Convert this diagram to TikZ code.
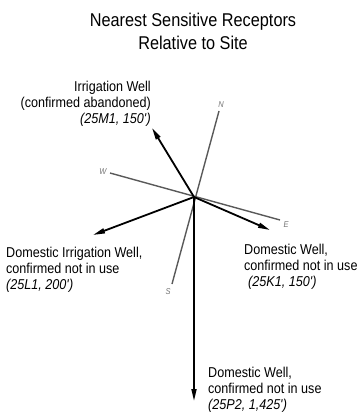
\documentclass[tikz,border=0pt]{standalone}
\usepackage{fontspec}
\setmainfont[FakeStretch=0.88]{Liberation Sans}
\usetikzlibrary{arrows.meta}
\begin{document}
\begin{tikzpicture}[x=1pt,y=-1pt,
  compass/.style={draw=black!65, line width=1.4pt},
  dirlabel/.style={font=\fontsize{8.5}{9}\selectfont\itshape, text=black!55, inner sep=0},
  receptor/.style={draw=black, line width=1.8pt, -{Triangle[length=12pt,width=5pt]}},
  lbl/.style={font=\fontsize{14.3}{16.3}\selectfont, inner sep=0},
]
\useasboundingbox (0,0) rectangle (360,412);
% title
\node[font=\fontsize{18.5}{22.5}\selectfont, align=center, anchor=north, inner sep=0] (title) at (193,13)
  {Nearest Sensitive Receptors\\Relative to Site};
% compass
\coordinate (C) at (194,197);
\coordinate (Nend) at (219,111);
\coordinate (Send) at (172,284);
\coordinate (Wend) at (110,173);
\coordinate (Eend) at (280,220);
\draw[compass] (Nend) -- (Send);
\draw[compass] (Wend) -- (Eend);
\node[dirlabel] (nl) at (221,105) {N};
\node[dirlabel] (sl) at (168,292) {S};
\node[dirlabel] (wl) at (103,172) {W};
\node[dirlabel] (el) at (286,225) {E};
% receptor arrows
\coordinate (tNW) at (152,128);
\coordinate (tSW) at (93,235);
\coordinate (tSE) at (270,230);
\coordinate (tS) at (194,401);
\draw[receptor] (C) -- (tNW);
\draw[receptor] (C) -- (tSW);
\draw[receptor] (C) -- (tSE);
\draw[receptor] (C) -- (tS);
% labels
\node[lbl, align=right, anchor=north east] (lNW) at (151,80.5)
  {Irrigation Well\\(confirmed abandoned)\\{\itshape (25M1, 150\textquotesingle)}};
\node[lbl, align=left, anchor=north west] (lSW) at (6,246.5)
  {Domestic Irrigation Well,\\confirmed not in use\\{\itshape (25L1, 200\textquotesingle)}};
\node[lbl, align=left, anchor=north west] (lSE) at (244,243.5)
  {Domestic Well,\\confirmed not in use\\\hspace{4pt}{\itshape (25K1, 150\textquotesingle)}};
\node[lbl, align=left, anchor=north west] (lS) at (208,366.5)
  {Domestic Well,\\confirmed not in use\\{\itshape (25P2, 1,425\textquotesingle)}};
\end{tikzpicture}
\end{document}
